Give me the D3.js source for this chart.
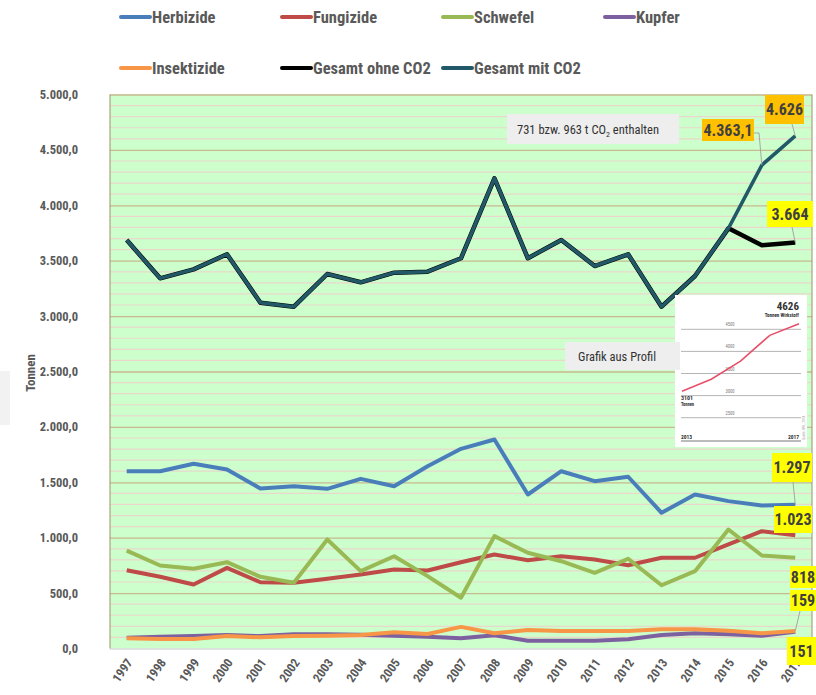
<!DOCTYPE html>
<html>
<head>
<meta charset="utf-8">
<script src="https://d3js.org/d3.v7.min.js"></script>
<title>Pflanzenschutzmittel - Tonnen</title>
<style>
  body { margin:0; background:#fff; }
  svg text { font-family: "Liberation Sans Narrow", "Roboto Condensed", "Liberation Sans", Arial, sans-serif; }
</style>
</head>
<body>
<div id="chart"></div>
<script>
// data
var years = [1997,1998,1999,2000,2001,2002,2003,2004,2005,2006,2007,2008,2009,2010,2011,2012,2013,2014,2015,2016,2017];
var herbizide   = [1600,1600,1667,1615,1444,1465,1441,1531,1465,1645,1802,1886,1390,1600,1510,1550,1225,1390,1330,1290,1297];
var fungizide   = [707,647,578,728,598,593,629,668,713,704,779,848,797,833,803,752,819,819,939,1059,1023];
var schwefel    = [884,749,719,779,647,593,984,698,833,653,458,1014,864,788,683,810,571,698,1074,839,818];
var kupfer      = [97,105,112,122,112,128,128,125,116,107,92,120,70,70,70,83,122,137,128,116,151];
var insektizide = [92,86,86,113,101,113,116,122,146,131,195,137,167,158,158,158,173,173,161,137,159];
var ohneCO2     = [3687,3341,3422,3558,3121,3085,3380,3305,3392,3401,3522,4244,3522,3687,3452,3558,3085,3362,3792,3640,3664];
var mitCO2      = [3687,3341,3422,3558,3121,3085,3380,3305,3392,3401,3522,4244,3522,3687,3452,3558,3085,3362,3792,4363.1,4626];
var yTicks = [0,500,1000,1500,2000,2500,3000,3500,4000,4500,5000];

// small picture "Grafik aus Profil"
var insetYears  = [2013,2014,2015,2016,2017];
var insetValues = [3101,3370,3780,4363,4626];
var insetTicks  = [2500,3000,3500,4000,4500];

var series = [
  {name:"Herbizide", values:herbizide, color:"#4a7ebb"},
  {name:"Fungizide", values:fungizide, color:"#be4b48"},
  {name:"Schwefel", values:schwefel, color:"#98b954"},
  {name:"Kupfer", values:kupfer, color:"#7d60a0"},
  {name:"Insektizide", values:insektizide, color:"#f79646"},
  {name:"Gesamt ohne CO2", values:ohneCO2, color:"#000000"},
  {name:"Gesamt mit CO2", values:mitCO2, color:"#215968"}
];

var W = 816, H = 695;
var pLeft = 110, pRight = 812, pTop = 94.5, pBottom = 648.5;

var svg = d3.select("#chart").append("svg")
  .attr("width", W).attr("height", H);

var x = d3.scalePoint().domain(years).range([pLeft, pRight]).padding(0.5);
var y = d3.scaleLinear().domain([0, 5000]).range([pBottom, pTop]);
var de = d3.formatLocale({decimal:",", thousands:".", grouping:[3], currency:["","€"]});
var fmt = de.format(",.1f");

// plot area
svg.append("rect")
  .attr("x", pLeft).attr("y", pTop)
  .attr("width", pRight - pLeft).attr("height", pBottom - pTop)
  .attr("fill", "#ccffcc");

// minor grid every 100
var minor = d3.range(100, 5000, 100).filter(function(v){ return v % 500 != 0; });
svg.append("g").selectAll("line").data(minor).enter().append("line")
  .attr("x1", pLeft).attr("x2", pRight)
  .attr("y1", function(d){ return y(d); }).attr("y2", function(d){ return y(d); })
  .attr("stroke", "#ead8cc").attr("stroke-width", 1.2);

// major grid + y axis
var yAxis = d3.axisLeft(y).tickValues(yTicks).tickFormat(fmt)
  .tickSize(-(pRight - pLeft)).tickPadding(32);
var gy = svg.append("g").attr("transform", "translate(" + pLeft + ",0)").call(yAxis);
gy.select(".domain").remove();
gy.selectAll(".tick line").attr("stroke", "#c8b98e").attr("stroke-width", 1.3);
gy.selectAll(".tick").filter(function(d){ return d == 0; }).select("line").attr("stroke", "#d9d9d9");
gy.selectAll("text")
  .attr("fill", "#595959").attr("font-size", 12.5).attr("font-weight", "bold");

// left and right border
svg.append("line").attr("x1", pLeft).attr("x2", pLeft).attr("y1", pTop).attr("y2", pBottom)
  .attr("stroke", "#a0906a").attr("stroke-width", 1);
svg.append("line").attr("x1", pRight).attr("x2", pRight).attr("y1", pTop).attr("y2", pBottom)
  .attr("stroke", "#a0906a").attr("stroke-width", 1);

// x axis labels
var xAxis = d3.axisBottom(x).tickSize(0).tickPadding(0);
var gx = svg.append("g").attr("transform", "translate(0," + pBottom + ")").call(xAxis);
gx.select(".domain").remove();
gx.selectAll("text")
  .attr("fill", "#595959").attr("font-size", 12.5).attr("font-weight", "bold")
  .attr("text-anchor", "end")
  .attr("dy", 0)
  .attr("transform", "translate(6,14) rotate(-55)");

// y axis title
svg.append("rect").attr("x", 0).attr("y", 371).attr("width", 10).attr("height", 54).attr("fill", "#f2f2f2");
svg.append("text")
  .attr("transform", "translate(35,373) rotate(-90)")
  .attr("text-anchor", "middle")
  .attr("fill", "#595959").attr("font-size", 13).attr("font-weight", "bold")
  .text("Tonnen");

// lines
var line = d3.line()
  .x(function(d, i){ return x(years[i]); })
  .y(function(d){ return y(d); });

series.forEach(function(s, i) {
  svg.append("path")
    .datum(s.values)
    .attr("d", line)
    .attr("fill", "none")
    .attr("stroke", s.color)
    .attr("stroke-width", i == 5 ? 4.5 : (i == 6 ? 3.5 : 4))
    .attr("stroke-linejoin", "round");
});

// legend
var legendPos = [[121,17],[282,17],[443,17],[605,17],[121,68],[282,68],[443,68]];
var lg = svg.append("g").selectAll("g").data(series).enter().append("g")
  .attr("transform", function(d, i){ return "translate(" + legendPos[i][0] + "," + legendPos[i][1] + ")"; });
lg.append("line").attr("x1", 0).attr("x2", 29).attr("y1", 0).attr("y2", 0)
  .attr("stroke", function(d){ return d.color; }).attr("stroke-width", 4)
  .attr("stroke-linecap", "round");
lg.append("text").attr("x", 31).attr("y", 6)
  .attr("fill", "#595959").attr("font-size", 16.5).attr("font-weight", "bold")
  .text(function(d){ return d.name; });

// CO2 note
svg.append("rect").attr("x", 507).attr("y", 114).attr("width", 172).attr("height", 30).attr("fill", "#eeeeee");
var note = svg.append("text").attr("x", 517).attr("y", 134)
  .attr("fill", "#333").attr("font-size", 12.5);
note.append("tspan").text("731 bzw. 963 t CO");
note.append("tspan").attr("font-size", 8).attr("dy", 3).text("2");
note.append("tspan").attr("dy", -3).text(" enthalten");

// inset picture
var ins = svg.append("g");
svg.append("rect").attr("x", 565).attr("y", 342).attr("width", 115).attr("height", 28).attr("fill", "#eeeeee");
svg.append("text").attr("x", 578).attr("y", 361).attr("fill", "#333").attr("font-size", 12.5)
  .text("Grafik aus  Profil");
ins.append("rect").attr("x", 675).attr("y", 295).attr("width", 132).attr("height", 152).attr("fill", "#ffffff");
var ix = d3.scalePoint().domain(insetYears).range([682, 799]);
var iy = d3.scaleLinear().domain([2500, 4500]).range([417.7, 329.3]);
ins.selectAll("line.g").data(insetTicks).enter().append("line")
  .attr("x1", 681).attr("x2", 801)
  .attr("y1", function(d){ return iy(d); }).attr("y2", function(d){ return iy(d); })
  .attr("stroke", "#b5b5b5").attr("stroke-width", 1);
ins.selectAll("text.t").data(insetTicks).enter().append("text")
  .attr("x", 730).attr("y", function(d){ return iy(d) - 3; })
  .attr("text-anchor", "middle").attr("font-size", 4.5).attr("fill", "#777")
  .text(function(d){ return d; });
ins.append("line").attr("x1", 681).attr("x2", 801).attr("y1", 441).attr("y2", 441)
  .attr("stroke", "#555").attr("stroke-width", 0.8);
ins.append("path").datum(insetValues)
  .attr("d", d3.line().x(function(d, i){ return ix(insetYears[i]); }).y(function(d){ return iy(d); }))
  .attr("fill", "none").attr("stroke", "#e8506a").attr("stroke-width", 1.6);
ins.append("text").attr("x", 799).attr("y", 310).attr("text-anchor", "end")
  .attr("font-size", 11).attr("font-weight", "bold").attr("fill", "#333").text("4626");
ins.append("text").attr("x", 799).attr("y", 317).attr("text-anchor", "end")
  .attr("font-size", 5).attr("font-weight", "bold").attr("fill", "#333").text("Tonnen Wirkstoff");
ins.append("text").attr("x", 681).attr("y", 400)
  .attr("font-size", 6).attr("font-weight", "bold").attr("fill", "#333").text("3101");
ins.append("text").attr("x", 681).attr("y", 406)
  .attr("font-size", 4.5).attr("font-weight", "bold").attr("fill", "#333").text("Tonnen");
ins.append("text").attr("x", 681).attr("y", 439)
  .attr("font-size", 5.5).attr("font-weight", "bold").attr("fill", "#333").text("2013");
ins.append("text").attr("x", 799).attr("y", 439).attr("text-anchor", "end")
  .attr("font-size", 5.5).attr("font-weight", "bold").attr("fill", "#333").text("2017");
ins.append("text").attr("transform", "translate(805,440) rotate(-90)")
  .attr("font-size", 3.5).attr("fill", "#999").text("Quelle: BVL, 2018");

// data labels
var labels = [
  {text:"4.626",   s:6, i:20, fill:"#ffc000", bx:765, by:95,  bw:39, bh:29, lx:792, ly:124},
  {text:"4.363,1", s:6, i:19, fill:"#ffc000", bx:702, by:119, bw:52, bh:22, lx:759, ly:133},
  {text:"3.664",   s:5, i:20, fill:"#ffff00", bx:767, by:201, bw:46, bh:26, lx:792, ly:227},
  {text:"1.297",   s:0, i:20, fill:"#ffff00", bx:772, by:453, bw:40, bh:29, lx:793, ly:482},
  {text:"1.023",   s:1, i:20, fill:"#ffff00", bx:774, by:506, bw:38, bh:27, lx:null},
  {text:"818",     s:2, i:20, fill:"#ffff00", bx:790, by:566, bw:26, bh:22, lx:null},
  {text:"159",     s:4, i:20, fill:"#ffff00", bx:790, by:590, bw:26, bh:21, lx:800, ly:611},
  {text:"151",     s:3, i:20, fill:"#ffff00", bx:787, by:637, bw:29, bh:28, lx:null}
];
labels.forEach(function(l) {
  if (l.lx != null) {
    var px = x(years[l.i]), py = y(series[l.s].values[l.i]);
    var pts = l.text == "4.363,1" ? [[754,133],[759,133],[px,py]] : [[l.lx,l.ly],[px,py]];
    svg.append("path").attr("d", d3.line()(pts))
      .attr("fill", "none").attr("stroke", "#a6a6a6").attr("stroke-width", 1);
  }
  svg.append("rect").attr("x", l.bx).attr("y", l.by).attr("width", l.bw).attr("height", l.bh)
    .attr("fill", l.fill);
  svg.append("text").attr("x", l.bx + l.bw / 2).attr("y", l.by + l.bh / 2 + 5.5)
    .attr("text-anchor", "middle").attr("font-size", 16).attr("font-weight", "bold")
    .attr("fill", "#404040").text(l.text);
});
</script>
</body>
</html>
